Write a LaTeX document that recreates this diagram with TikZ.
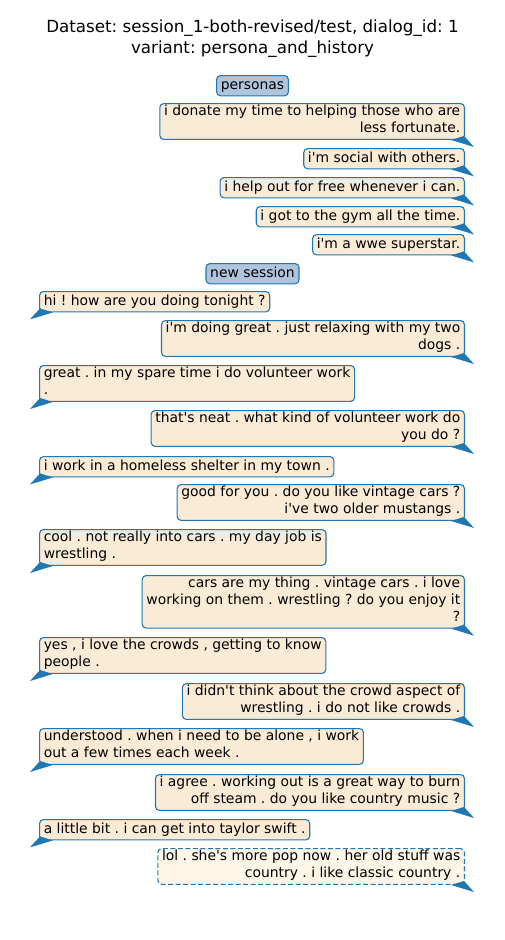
\documentclass[tikz,border=0pt]{standalone}
\usepackage{fontspec}
\setmainfont{DejaVu Sans}[Ligatures=TeXOff]
\usepackage{tikz}
\usetikzlibrary{positioning, calc}
\definecolor{bubbleedge}{HTML}{1F77B4}
\definecolor{bubblefill}{HTML}{FAEBD7}
\definecolor{bubblelight}{HTML}{FDF5E6}
\definecolor{headerfill}{HTML}{B0C4DE}
\frenchspacing

\begin{document}
\begin{tikzpicture}[
    x=1pt, y=-1pt,
    bubble/.style={rectangle, rounded corners=4pt, draw=bubbleedge, line width=1.1pt, fill=#1, inner xsep=4.2pt, inner ysep=1.8pt, font=\fontsize{13.9}{16.7}\selectfont, execute at begin node=\strut, execute at end node=\strut},
    rightmsg/.style={bubble=bubblefill, anchor=north east, align=right},
    leftmsg/.style={bubble=bubblefill, anchor=north west, align=left},
    header/.style={bubble=headerfill, anchor=north},
    tail/.style={fill=bubbleedge}
]
\useasboundingbox (0,0) rectangle (505,940);

% Title
\node[font=\fontsize{16.7}{20.5}\selectfont, align=center] (title) at (252.5,38.5) {Dataset: session\_1-both-revised/test, dialog\_id: 1\\variant: persona\_and\_history};

% Personas
\node[header] (personas) at (252.5,75) {personas};
\node[rightmsg] (donate) at (465,103) {i donate my time to helping those who are\\less fortunate.};
\node[rightmsg] (social) at (465,148) {i'm social with others.};
\node[rightmsg] (help) at (465,177) {i help out for free whenever i can.};
\node[rightmsg] (gym) at (465,206) {i got to the gym all the time.};
\node[rightmsg] (wwe) at (465,234) {i'm a wwe superstar.};

% New session
\node[header] (session) at (252.5,263) {new session};
\node[leftmsg] (hi) at (39,291) {hi ! how are you doing tonight ?};
\node[rightmsg] (dogs) at (465,320) {i'm doing great . just relaxing with my two\\dogs .};
\node[leftmsg] (volunteer) at (39,365) {great . in my spare time i do volunteer work\\.};
\node[rightmsg] (neat) at (465,410) {that's neat . what kind of volunteer work do\\you do ?};
\node[leftmsg] (shelter) at (39,456) {i work in a homeless shelter in my town .};
\node[rightmsg] (vintage) at (465,484) {good for you . do you like vintage cars ?\\i've two older mustangs .};
\node[leftmsg] (cool) at (39,529) {cool . not really into cars . my day job is\\wrestling .};
\node[rightmsg] (cars) at (465,575) {cars are my thing . vintage cars . i love\\working on them . wrestling ? do you enjoy it\\?};
\node[leftmsg] (crowds) at (39,637) {yes , i love the crowds , getting to know\\people .};
\node[rightmsg] (aspect) at (465,683) {i didn't think about the crowd aspect of\\wrestling . i do not like crowds .};
\node[leftmsg] (alone) at (39,728) {understood . when i need to be alone , i work\\out a few times each week .};
\node[rightmsg] (steam) at (465,774) {i agree . working out is a great way to burn\\off steam . do you like country music ?};
\node[leftmsg] (taylor) at (39,819) {a little bit . i can get into taylor swift .};
\node[rightmsg, dash pattern=on 5pt off 2.5pt, fill=bubblelight] (classic) at (465,848) {lol . she's more pop now . her old stuff was\\country . i like classic country .};

% Tails
\foreach \n in {donate, social, help, gym, wwe, dogs, neat, vintage, cars, aspect, steam, classic}
    \fill[tail] ($(\n.south east)+(-14,0)$) -- ($(\n.south east)+(9,7)$) -- ($(\n.south east)+(-1,-4)$) -- cycle;
\foreach \n in {hi, volunteer, shelter, cool, crowds, alone, taylor}
    \fill[tail] ($(\n.south west)+(14,0)$) -- ($(\n.south west)+(-9,7)$) -- ($(\n.south west)+(1,-4)$) -- cycle;

\end{tikzpicture}
\end{document}
